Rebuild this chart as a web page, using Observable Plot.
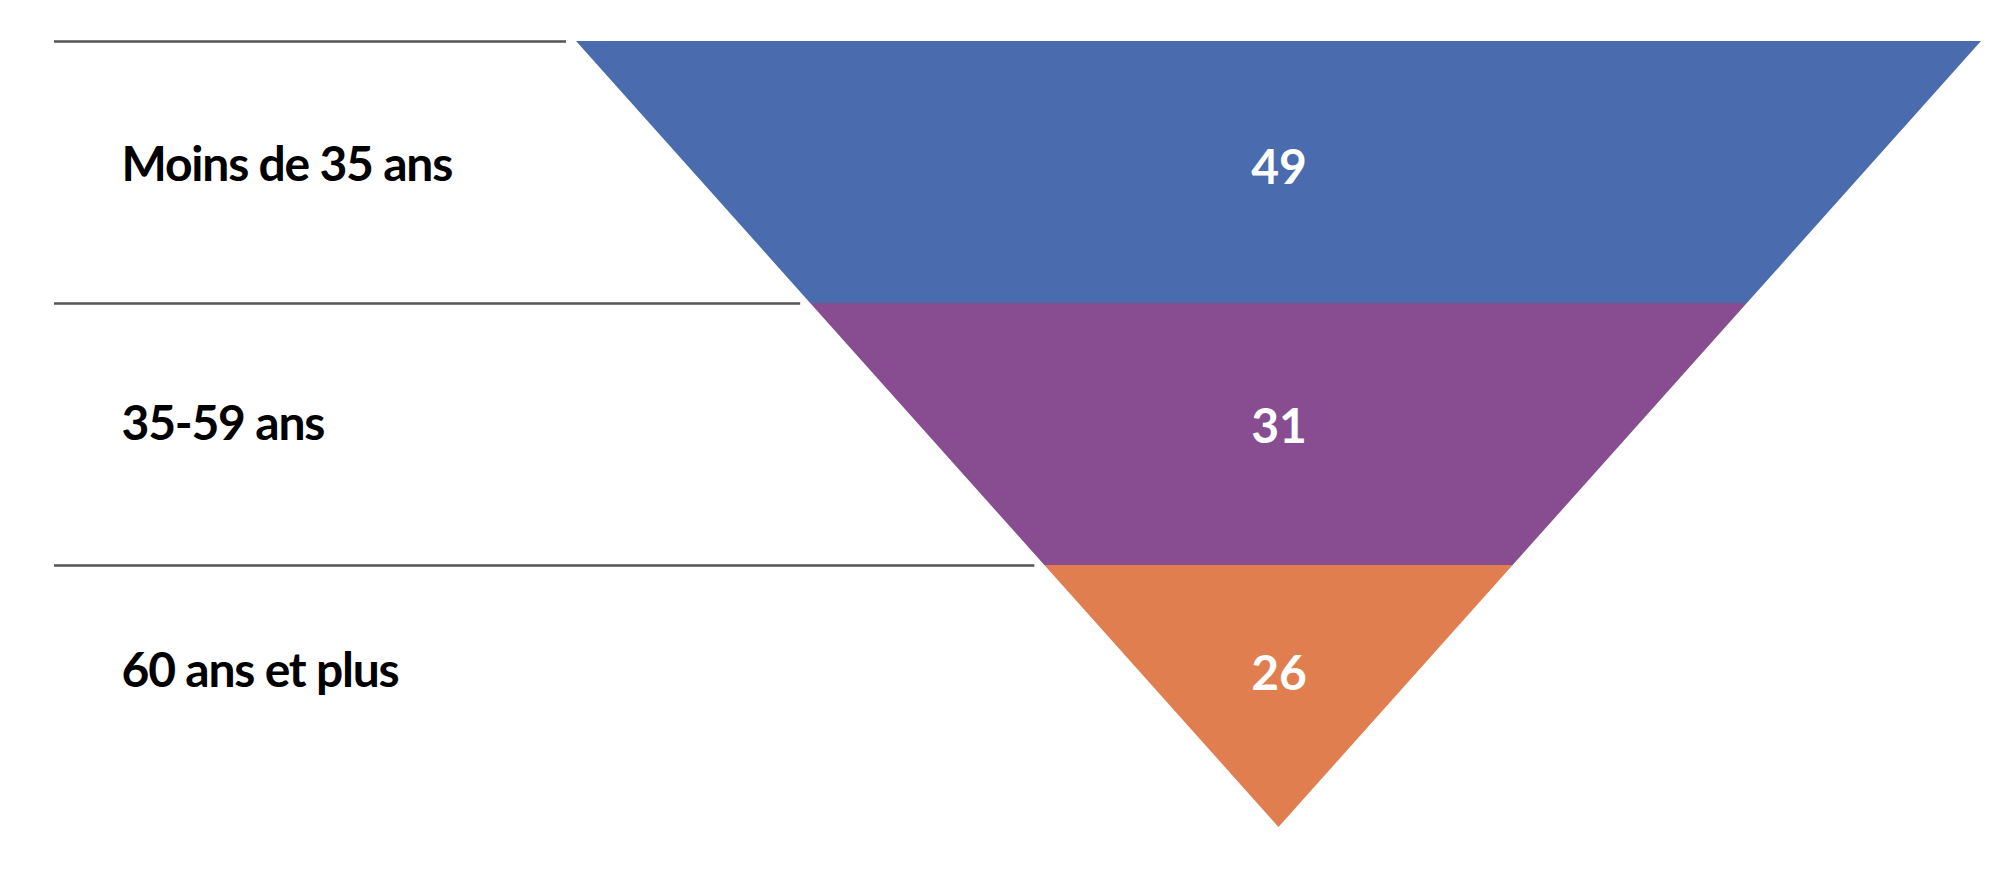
<!DOCTYPE html>
<html>
<head>
<meta charset="utf-8">
<script src="https://cdn.jsdelivr.net/npm/d3@7"></script>
<script src="https://cdn.jsdelivr.net/npm/@observablehq/plot@0.6"></script>
<style>
  body { margin: 0; background: #fff; }
  #chart text { font-family: Lato, "Open Sans", sans-serif; }
  #chart .etiquettes text { letter-spacing: -1.2px; }
</style>
</head>
<body>
<div id="chart"></div>
<script>
// catégories d'âge, du haut vers le bas de l'entonnoir
const categories = ["Moins de 35 ans", "35-59 ans", "60 ans et plus"];
const valeurs = [49, 31, 26];
const couleurs = ["#4a6bad", "#884d90", "#e07e4f"];

const n = categories.length;

// chaque bande est un trapèze : largeur n - i en haut, n - i - 1 en bas
const points = categories.flatMap((cat, i) => [
  {cat, y: i, x1: -(n - i) / 2, x2: (n - i) / 2},
  {cat, y: i + 1, x1: -(n - i - 1) / 2, x2: (n - i - 1) / 2}
]);

// position verticale du texte : entre le milieu et le centre de gravité de la bande
const lignes = categories.map((cat, i) => {
  const haut = n - i, bas = n - i - 1;
  const centroide = (haut + 2 * bas) / (3 * (haut + bas));
  return {
    cat,
    valeur: valeurs[i],
    y: i,
    bord: -(n - i) / 2,
    yTexte: i + (0.5 + centroide) / 2
  };
});

// échelle en pixels pour trouver le début des traits à gauche
const px = d3.scaleLinear([-n / 2, n / 2], [576, 1981]);
const xDebut = px.invert(54);

const chart = Plot.plot({
  width: 2010,
  height: 876,
  margin: 0,
  x: {domain: [-n / 2, n / 2], range: [576, 1981], axis: null},
  y: {domain: [0, n], range: [41, 827], axis: null},
  color: {domain: categories, range: couleurs},
  marks: [
    Plot.areaX(points, {
      y: "y",
      x1: "x1",
      x2: "x2",
      z: "cat",
      fill: "cat"
    }),
    Plot.ruleY(lignes, {
      y: "y",
      x1: xDebut,
      x2: "bord",
      insetRight: 10,
      stroke: "#555",
      strokeWidth: 2.5
    }),
    Plot.text(lignes, {
      y: "yTexte",
      text: "cat",
      frameAnchor: "left",
      textAnchor: "start",
      dx: 121,
      dy: -3,
      fontSize: 48,
      fontWeight: 700,
      fill: "#000",
      className: "etiquettes"
    }),
    Plot.text(lignes, {
      x: 0,
      y: "yTexte",
      text: "valeur",
      fontSize: 48,
      fontWeight: 700,
      fill: "#fff"
    })
  ]
});

d3.select("#chart").append(() => chart);
</script>
</body>
</html>
